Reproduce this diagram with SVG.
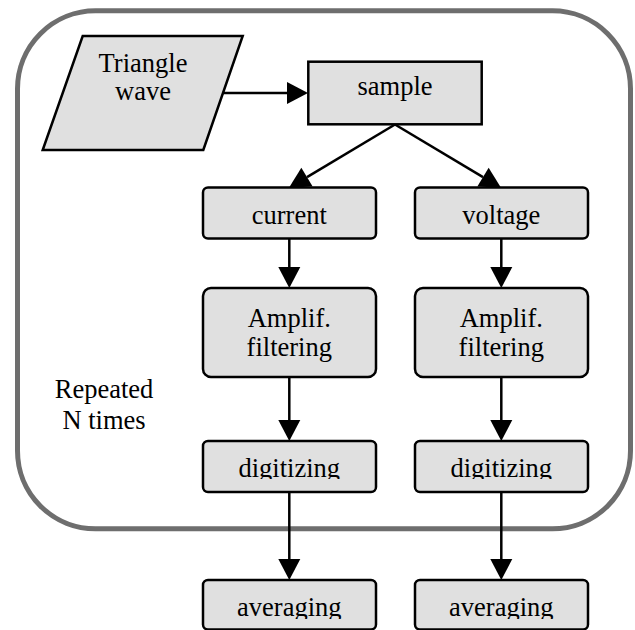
<svg xmlns="http://www.w3.org/2000/svg" width="635" height="630" viewBox="0 0 635 630">
  <style>
    .node { fill: #e0e0e0; stroke: #000; stroke-width: 2.5; }
    .lbl { font-family: 'Liberation Serif', 'Times New Roman', serif; font-size: 26.5px; fill: #000; text-anchor: middle; }
    .edge { fill: none; stroke: #000; stroke-width: 2.5; marker-end: url(#head); }
    .frame { fill: none; stroke: #6e6e6e; stroke-width: 5; }
  </style>
  <defs>
    <marker id="head" markerUnits="userSpaceOnUse" markerWidth="22" markerHeight="22" refX="0" refY="11" orient="auto" overflow="visible">
      <path d="M0,0 L21,11 L0,22 Z" fill="#000"/>
    </marker>
    <!-- text areas of the lower boxes cut off their descenders -->
    <clipPath id="clipDigL"><rect x="203" y="441" width="173" height="38"/></clipPath>
    <clipPath id="clipDigR"><rect x="415" y="441" width="173" height="38"/></clipPath>
    <clipPath id="clipAvgL"><rect x="203" y="580" width="173" height="39"/></clipPath>
    <clipPath id="clipAvgR"><rect x="415" y="580" width="173" height="39"/></clipPath>
  </defs>

  <!-- loop boundary -->
  <g id="loop">
    <rect class="frame" x="17.5" y="10.8" width="613" height="518" rx="78" ry="78"/>
    <text class="lbl" x="104" y="398">Repeated</text>
    <text class="lbl" x="104" y="429">N times</text>
  </g>

  <!-- connectors -->
  <g id="connectors">
    <line class="edge" x1="223" y1="93" x2="287" y2="93"/>
    <line class="edge" x1="395" y1="124.5" x2="307" y2="177.1"/>
    <line class="edge" x1="395" y1="124.5" x2="483" y2="177.1"/>
    <line class="edge" x1="289.3" y1="238" x2="289.3" y2="267"/>
    <line class="edge" x1="289.3" y1="377" x2="289.3" y2="420"/>
    <line class="edge" x1="289.3" y1="492" x2="289.3" y2="559"/>
    <line class="edge" x1="501.3" y1="238" x2="501.3" y2="267"/>
    <line class="edge" x1="501.3" y1="377" x2="501.3" y2="420"/>
    <line class="edge" x1="501.3" y1="492" x2="501.3" y2="559"/>
  </g>

  <!-- nodes -->
  <g id="triangle-wave">
    <polygon class="node" points="82.7,36 242.7,36 203.3,150 42.7,150"/>
    <text class="lbl" x="143" y="72">Triangle</text>
    <text class="lbl" x="143" y="100">wave</text>
  </g>
  <g id="sample">
    <rect class="node" x="308.3" y="61.7" width="173.4" height="62.6"/>
    <text class="lbl" x="395" y="95">sample</text>
  </g>
  <g id="current">
    <rect class="node" x="203" y="187.5" width="173" height="51" rx="5"/>
    <text class="lbl" x="289.3" y="224">current</text>
  </g>
  <g id="voltage">
    <rect class="node" x="415" y="187.5" width="173" height="51" rx="5"/>
    <text class="lbl" x="501.3" y="224">voltage</text>
  </g>
  <g id="amplif-current">
    <rect class="node" x="203" y="288" width="173" height="89" rx="8"/>
    <text class="lbl" x="289.3" y="327">Amplif.</text>
    <text class="lbl" x="289.3" y="356">filtering</text>
  </g>
  <g id="amplif-voltage">
    <rect class="node" x="415" y="288" width="173" height="89" rx="8"/>
    <text class="lbl" x="501.3" y="327">Amplif.</text>
    <text class="lbl" x="501.3" y="356">filtering</text>
  </g>
  <g id="digitizing-current">
    <rect class="node" x="203" y="441" width="173" height="51" rx="5"/>
    <text class="lbl" x="289.3" y="477" clip-path="url(#clipDigL)">digitizing</text>
  </g>
  <g id="digitizing-voltage">
    <rect class="node" x="415" y="441" width="173" height="51" rx="5"/>
    <text class="lbl" x="501.3" y="477" clip-path="url(#clipDigR)">digitizing</text>
  </g>
  <g id="averaging-current">
    <rect class="node" x="203" y="580" width="173" height="49.5" rx="5"/>
    <text class="lbl" x="289.3" y="616" clip-path="url(#clipAvgL)">averaging</text>
  </g>
  <g id="averaging-voltage">
    <rect class="node" x="415" y="580" width="173" height="49.5" rx="5"/>
    <text class="lbl" x="501.3" y="616" clip-path="url(#clipAvgR)">averaging</text>
  </g>
</svg>
